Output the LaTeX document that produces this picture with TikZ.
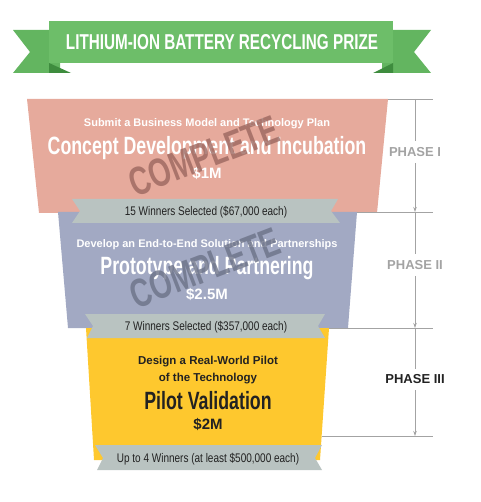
\documentclass[tikz,border=0pt]{standalone}
\usepackage{fontspec}
\setmainfont{Liberation Sans}
\newfontfamily\condfont{Liberation Sans}[FakeStretch=0.71]
\newfontfamily\narrowfont{Liberation Sans}[FakeStretch=0.8]
\usetikzlibrary{arrows.meta}

\definecolor{bannergreen}{HTML}{6DBE69}
\definecolor{tailgreen}{HTML}{63B560}
\definecolor{foldgreen}{HTML}{3E8C3E}
\definecolor{conceptpink}{HTML}{E6AA9C}
\definecolor{stamppink}{HTML}{9C675F}
\definecolor{protoblue}{HTML}{A2A9C3}
\definecolor{stampblue}{HTML}{6C7287}
\definecolor{pilotyellow}{HTML}{FEC82E}
\definecolor{ribbongray}{HTML}{B9C3C1}
\definecolor{guidegray}{HTML}{A3A3A3}
\definecolor{inkgray}{HTML}{222222}

\begin{document}
\begin{tikzpicture}[x=1pt,y=-1pt,>={Stealth[length=5pt,width=3.5pt]},
    lbl/.style={anchor=base,inner sep=0pt},
    mainline/.style={lbl,font=\condfont\bfseries\fontsize{25}{28}\selectfont},
    subline/.style={lbl,font=\bfseries\fontsize{11}{13}\selectfont},
    prize/.style={lbl,font=\bfseries\fontsize{15}{17}\selectfont},
    winners/.style={lbl,font=\narrowfont\fontsize{12.5}{14}\selectfont,text=inkgray},
    phase/.style={font=\bfseries\fontsize{13}{15}\selectfont,inner sep=6pt},
    stamp/.style={font=\condfont\bfseries\fontsize{40}{44}\selectfont,rotate=21,opacity=0.8},
    guide/.style={draw=guidegray,line width=0.8pt}]

    \useasboundingbox (0,0) rectangle (480,502);

    % banner
    \fill[tailgreen] (13,30) -- (60,30) -- (60,73) -- (13,73) -- (30,52) -- cycle;
    \fill[tailgreen] (431,30) -- (382,30) -- (382,73) -- (431,73) -- (414,52) -- cycle;
    \fill[foldgreen] (49,63) -- (71,73) -- (49,73) -- cycle;
    \fill[foldgreen] (393,63) -- (373,73) -- (393,73) -- cycle;
    \fill[bannergreen] (49,21) rectangle (393,63);
    \node[lbl,font=\condfont\bfseries\fontsize{21.5}{24}\selectfont,text=white] (title) at (222,50) {LITHIUM-ION BATTERY RECYCLING PRIZE};

    % funnel
    \fill[conceptpink] (27,99) -- (388,99) -- (377,213) -- (39,213) -- cycle;
    \fill[protoblue] (58,212) -- (357,212) -- (348,328) -- (68,328) -- cycle;
    \fill[ribbongray] (72,199) -- (338,199) -- (331,211) -- (340,223) -- (72,223) -- (80,211) -- cycle;
    \fill[pilotyellow] (86,328) -- (329,328) -- (320,460) -- (94,460) -- cycle;
    \fill[ribbongray] (85,314) -- (325,314) -- (318,326) -- (325,338) -- (87,338) -- (93,326) -- cycle;
    \fill[ribbongray] (95,445) -- (322,445) -- (315,458) -- (322,470) -- (97,470) -- (103,458) -- cycle;

    % phase I
    \node[subline,text=white] (task1) at (207,127) {Submit a Business Model and Technology Plan};
    \node[mainline,text=white] (name1) at (207,155) {Concept Development and Incubation};
    \node[prize,text=white] (prize1) at (207,179) {\$1M};
    \node[stamp,text=stamppink] (stamp1) at (204,156) {COMPLETE};
    \node[winners] (win1) at (206,215) {15 Winners Selected (\$67,000 each)};

    % phase II
    \node[subline,text=white] (task2) at (207,247) {Develop an End-to-End Solution and Partnerships};
    \node[mainline,text=white] (name2) at (207,274) {Prototype and Partnering};
    \node[prize,text=white] (prize2) at (207,299) {\$2.5M};
    \node[stamp,text=stampblue] (stamp2) at (205,268) {COMPLETE};
    \node[winners] (win2) at (206,330) {7 Winners Selected (\$357,000 each)};

    % phase III
    \node[subline,text=inkgray,font=\bfseries\fontsize{11.5}{13}\selectfont] (task3a) at (208,364) {Design a Real-World Pilot};
    \node[subline,text=inkgray,font=\bfseries\fontsize{11.5}{13}\selectfont] (task3b) at (208,381) {of the Technology};
    \node[mainline,text=inkgray] (name3) at (208,409) {Pilot Validation};
    \node[prize,text=inkgray] (prize3) at (208,429) {\$2M};
    \node[winners] (win3) at (208,462) {Up to 4 Winners (at least \$500,000 each)};

    % phase guides
    \coordinate (g0) at (415,99);
    \coordinate (g1) at (415,212);
    \coordinate (g2) at (415,328);
    \coordinate (g3) at (415,436);
    \node[phase,text=guidegray] (ph1) at (415,152) {PHASE I};
    \node[phase,text=guidegray] (ph2) at (415,265) {PHASE II};
    \node[phase,text=inkgray] (ph3) at (415,379.5) {PHASE III};

    \draw[guide] (388,99) -- (433,99);
    \draw[guide] (357,212) -- (433,212);
    \draw[guide] (329,328) -- (433,328);
    \draw[guide] (322,436) -- (433,436);
    \draw[guide] (g0) -- (ph1);
    \draw[guide,->] (ph1) -- (g1);
    \draw[guide] (g1) -- (ph2);
    \draw[guide,->] (ph2) -- (g2);
    \draw[guide] (g2) -- (ph3);
    \draw[guide,->] (ph3) -- (g3);
\end{tikzpicture}
\end{document}
